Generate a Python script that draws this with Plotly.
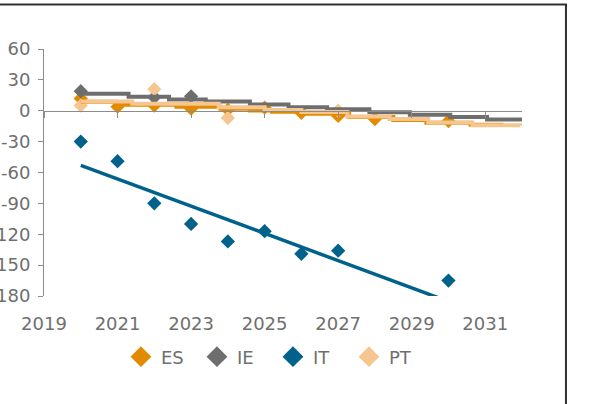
import plotly.graph_objects as go

# yearly points (diamonds)
years_es = [2020, 2021, 2022, 2023, 2024, 2025, 2026, 2027, 2028, 2030]
es = [12, 4, 5, 2, 1, 3, -2, -5, -8, -10]

years_ie = [2020, 2022, 2023]
ie = [19, 13, 14]

years_it = [2020, 2021, 2022, 2023, 2024, 2025, 2026, 2027, 2030]
it = [-30, -49, -90, -110, -127, -117, -139, -136, -165]

years_pt = [2020, 2022, 2024, 2027]
pt = [5, 21, -7, 0]

# trend lines (step vertices)
es_line_x = [2020, 2020.95, 2022.6, 2023.8, 2024.6, 2025.2, 2026.1, 2027.3, 2028.5, 2029.4, 2030.6, 2031.5]
es_line_y = [8.8, 5.8, 4, 2, 0.3, -1, -3, -6, -9, -11.7, -13.6, -13.6]

ie_line_x = [2020, 2021.3, 2022.4, 2023.4, 2024.6, 2025.65, 2026.7, 2027.85, 2028.95, 2030.05, 2031.05, 2032]
ie_line_y = [16.5, 13.5, 11, 9, 6, 3.5, 1.5, -1.5, -4, -6, -8.5, -8.5]

pt_line_x = [2020, 2021.4, 2023.75, 2025.0, 2026.0, 2027.25, 2028.4, 2029.45, 2030.65, 2031.95]
pt_line_y = [9, 6.8, 3.3, 0.8, -1.3, -5.5, -8, -11.3, -14, -14.5]

it_line_x = [2020, 2029.75]
it_line_y = [-53, -182]

x_ticks = [2019, 2021, 2023, 2025, 2027, 2029, 2031]
y_ticks = [-180, -150, -120, -90, -60, -30, 0, 30, 60]
y_ticktext = ['-180', '-150', '-120', '-90', '-60', '-30', '0', '30', '60']

C_ES = '#E38B00'
C_IE = '#6E6E6E'
C_IT = '#00628B'
C_PT = '#F5C690'
FONT = 'DejaVu Sans'
GREY_TXT = '#6f6f6f'
AXIS = '#8c8c8c'


def addPoints(fig, x, y, color):
    fig.add_trace(go.Scatter(
        x=x, y=y, mode='markers', showlegend=False,
        marker=dict(symbol='diamond', size=11, color=color, line_width=0)
    ))


def addLegend(fig, name, color):
    # legend-only entry, bigger diamond like the original
    fig.add_trace(go.Scatter(
        x=[None], y=[None], name=name, mode='markers',
        marker=dict(symbol='diamond', size=16, color=color, line_width=0)
    ))


def addLine(fig, x, y, color, shape='hv', width=4):
    fig.add_trace(go.Scatter(
        x=x, y=y, mode='lines', showlegend=False, hoverinfo='skip',
        line=dict(color=color, width=width, shape=shape)
    ))


fig = go.Figure()
addPoints(fig, years_es, es, C_ES)
addPoints(fig, years_ie, ie, C_IE)
addPoints(fig, years_it, it, C_IT)
addPoints(fig, years_pt, pt, C_PT)

addLine(fig, es_line_x, es_line_y, C_ES)
addLine(fig, ie_line_x, ie_line_y, C_IE)
addLine(fig, pt_line_x, pt_line_y, C_PT)
addLine(fig, it_line_x, it_line_y, C_IT, shape='linear', width=3.5)

for name, col in [('ES', C_ES), ('IE', C_IE), ('IT', C_IT), ('PT', C_PT)]:
    addLegend(fig, name, col)

# dummy trace so the x axis drawn through zero shows up
fig.add_trace(go.Scatter(x=[], y=[], xaxis='x2', showlegend=False))

fig.update_layout(
    width=597, height=404,
    margin=dict(l=43.5, r=75, t=49, b=108),
    paper_bgcolor='white', plot_bgcolor='white',
    font=dict(family=FONT, size=18, color=GREY_TXT),
    xaxis=dict(
        range=[2019, 2032], tickvals=x_ticks, automargin=False,
        showgrid=False, zeroline=False, showline=False,
        ticks='outside', ticklen=11, tickcolor='rgba(0,0,0,0)',
        tickfont=dict(size=18, color=GREY_TXT)
    ),
    xaxis2=dict(
        overlaying='x', anchor='free', position=0.75, matches='x',
        tickvals=x_ticks, showticklabels=False, automargin=False,
        showgrid=False, zeroline=False,
        showline=True, linecolor=AXIS, linewidth=1,
        ticks='outside', ticklen=6, tickcolor=AXIS, tickwidth=1
    ),
    yaxis=dict(
        range=[-180, 60], tickvals=y_ticks, ticktext=y_ticktext, automargin=False,
        showgrid=False, zeroline=False,
        showline=True, linecolor=AXIS, linewidth=1,
        ticks='outside', ticklen=5, tickcolor=AXIS, ticklabelstandoff=4,
        tickfont=dict(size=18, color=GREY_TXT)
    ),
    legend=dict(
        orientation='h', x=0.479, xanchor='center', y=-0.247, yanchor='middle',
        entrywidth=31, entrywidthmode='pixels',
        font=dict(size=18, color=GREY_TXT), bgcolor='rgba(0,0,0,0)'
    ),
    shapes=[dict(
        type='rect', xref='paper', yref='paper',
        x0=-0.3, x1=1.092, y0=-0.7, y1=1.18,
        line=dict(color='#303030', width=2), layer='above'
    )]
)

# drop the default 8px body margin so the chart sits at the window corner
fig.write_html("out.html", config={'displayModeBar': False},
               post_script="document.body.style.margin = '0';")
